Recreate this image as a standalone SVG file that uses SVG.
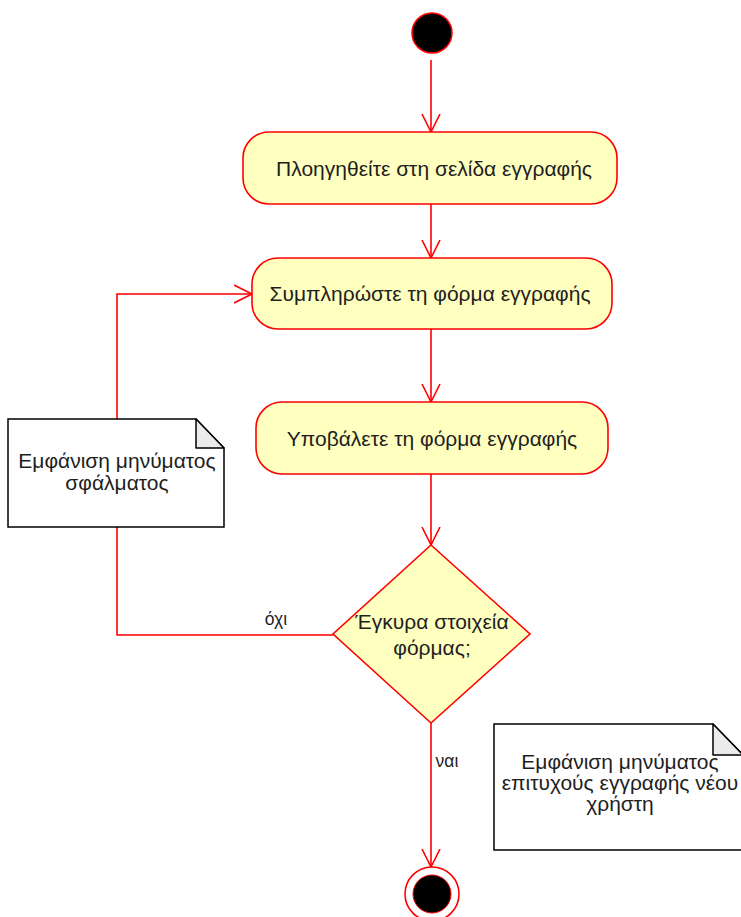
<svg xmlns="http://www.w3.org/2000/svg" width="741" height="917" viewBox="0 0 741 917">
  <style>
    .edge { fill: none; stroke: #ff0000; stroke-width: 1.6; }
    .action { fill: #ffffc0; stroke: #ff0000; stroke-width: 1.6; }
    .note { fill: #ffffff; stroke: #000000; stroke-width: 1.5; }
    .fold { fill: #ebebeb; stroke: #000000; stroke-width: 1.5; stroke-linejoin: round; }
    text { font-family: "Liberation Sans", Arial, sans-serif; font-size: 21px; fill: #1e1e1e; text-anchor: middle; }
    .lbl { font-size: 17.5px; }
  </style>
  <defs>
    <marker id="open" viewBox="0 0 20 20" refX="18" refY="10" markerWidth="20" markerHeight="20" markerUnits="userSpaceOnUse" orient="auto">
      <path d="M0,1 L18,10 L0,19" fill="none" stroke="#ff0000" stroke-width="1.6"/>
    </marker>
  </defs>

  <!-- connectors -->
  <g id="edges">
    <path class="edge" d="M431,60 V132" marker-end="url(#open)"/>
    <path class="edge" d="M431,204 V258" marker-end="url(#open)"/>
    <path class="edge" d="M431,329 V402" marker-end="url(#open)"/>
    <path class="edge" d="M431,474 V545" marker-end="url(#open)"/>
    <path class="edge" d="M431,723 V867" marker-end="url(#open)"/>
    <path class="edge" d="M333,635 H117 V294 H252" marker-end="url(#open)"/>
    <text class="lbl" x="276" y="625">όχι</text>
    <text class="lbl" x="447" y="767">ναι</text>
  </g>

  <g id="start">
    <circle cx="432" cy="33" r="20" fill="#000000" stroke="#ff0000" stroke-width="1.5"/>
  </g>

  <g id="navigate">
    <rect class="action" x="243" y="132" width="374" height="72" rx="26"/>
    <text x="434" y="176">Πλοηγηθείτε στη σελίδα εγγραφής</text>
  </g>

  <g id="fill-form">
    <rect class="action" x="252" y="258" width="360" height="71" rx="26"/>
    <text x="430" y="301">Συμπληρώστε τη φόρμα εγγραφής</text>
  </g>

  <g id="submit-form">
    <rect class="action" x="256" y="402" width="352" height="72" rx="26"/>
    <text x="432" y="446">Υποβάλετε τη φόρμα εγγραφής</text>
  </g>

  <g id="decision">
    <polygon class="action" points="431,545 530,634 431,723 333,634"/>
    <text x="432" y="629">Έγκυρα στοιχεία</text>
    <text x="432" y="655">φόρμας;</text>
  </g>

  <g id="error-note">
    <path class="note" d="M8,419 H196 L224,448 V527 H8 Z"/>
    <path class="fold" d="M196,419 V448 H224 Z"/>
    <text x="117" y="468">Εμφάνιση μηνύματος</text>
    <text x="117" y="490">σφάλματος</text>
  </g>

  <g id="success-note">
    <path class="note" d="M494,724 H713 L743,755 V850 H494 Z"/>
    <path class="fold" d="M713,724 V755 H743 Z"/>
    <text x="620" y="769">Εμφάνιση μηνύματος</text>
    <text x="620" y="790">επιτυχούς εγγραφής νέου</text>
    <text x="620" y="811">χρήστη</text>
  </g>

  <g id="end">
    <circle cx="432" cy="894" r="27" fill="#ffffff" stroke="#ff0000" stroke-width="1.6"/>
    <circle cx="432" cy="894" r="19" fill="#000000" stroke="#ff0000" stroke-width="1"/>
  </g>
</svg>
